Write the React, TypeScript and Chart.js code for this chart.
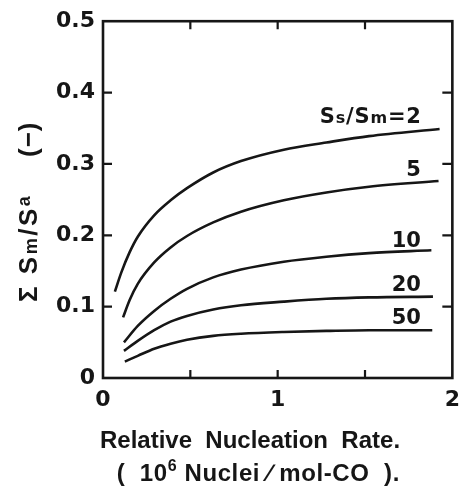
import React, { useEffect, useRef } from 'react';
import { Chart, registerables } from 'chart.js';

Chart.register(...registerables);

// ---- data ----
const seriesNames = ['2', '5', '10', '20', '50'];

const xS2 = [0.068, 0.105, 0.152, 0.199, 0.293, 0.387, 0.481, 0.631, 0.79, 1.035, 1.279, 1.523, 1.927];
const yS2 = [0.121, 0.148, 0.176, 0.198, 0.228, 0.249, 0.266, 0.288, 0.304, 0.320, 0.330, 0.339, 0.349];

const xS5 = [0.115, 0.152, 0.199, 0.293, 0.387, 0.481, 0.631, 0.79, 1.035, 1.279, 1.523, 1.921];
const yS5 = [0.085, 0.109, 0.132, 0.162, 0.183, 0.199, 0.218, 0.233, 0.249, 0.260, 0.268, 0.276];

const xS10 = [0.12, 0.199, 0.293, 0.387, 0.481, 0.631, 0.79, 1.035, 1.279, 1.523, 1.88];
const yS10 = [0.050, 0.073, 0.094, 0.111, 0.125, 0.141, 0.152, 0.163, 0.170, 0.175, 0.179];

const xS20 = [0.12, 0.199, 0.293, 0.387, 0.481, 0.631, 0.79, 1.035, 1.279, 1.523, 1.889];
const yS20 = [0.038, 0.052, 0.067, 0.079, 0.087, 0.096, 0.102, 0.107, 0.111, 0.113, 0.114];

const xS50 = [0.125, 0.199, 0.293, 0.387, 0.481, 0.631, 0.79, 1.035, 1.279, 1.523, 1.885];
const yS50 = [0.023, 0.031, 0.041, 0.048, 0.0535, 0.059, 0.062, 0.0645, 0.066, 0.067, 0.067];

const xTickValues = [0, 1, 2];
const xTickLabels = ['0', '1', '2'];
const yTickValues = [0, 0.1, 0.2, 0.3, 0.4, 0.5];
const yTickLabels = ['0', '0.1', '0.2', '0.3', '0.4', '0.5'];
const xInnerTicks = [0.5, 1, 1.5];
const yInnerTicks = [0.1, 0.2, 0.3, 0.4];

// label anchors (data coords, right-aligned baseline)
const labelAnchorX = 1.82;
const labelAnchorY = [0.357, 0.283, 0.184, 0.122, 0.076];

const INK = '#161616';

type Run = { t: string; font: string; dy?: number };

function drawRuns(
  ctx: CanvasRenderingContext2D,
  runs: Run[],
  x: number,
  y: number,
  align: 'left' | 'center' | 'right',
  spacing = 0,
) {
  const chars: { c: string; font: string; dy: number; w: number }[] = [];
  runs.forEach((r) => {
    ctx.font = r.font;
    if (spacing === 0) {
      chars.push({ c: r.t, font: r.font, dy: r.dy || 0, w: ctx.measureText(r.t).width });
    } else {
      for (const c of Array.from(r.t)) {
        chars.push({ c, font: r.font, dy: r.dy || 0, w: ctx.measureText(c).width + spacing });
      }
    }
  });
  let total = chars.reduce((a, c) => a + c.w, 0);
  if (spacing) total -= spacing;
  let cx = align === 'left' ? x : align === 'center' ? x - total / 2 : x - total;
  ctx.textAlign = 'left';
  ctx.textBaseline = 'alphabetic';
  chars.forEach((c) => {
    ctx.font = c.font;
    ctx.fillText(c.c, cx, y + c.dy);
    cx += c.w;
  });
}

const decorPlugin = {
  id: 'decor',
  afterDraw(chart: any) {
    const { ctx, chartArea } = chart;
    const xs = chart.scales.x;
    const ys = chart.scales.y;
    const { left, right, top, bottom } = chartArea;
    ctx.save();
    ctx.strokeStyle = INK;
    ctx.fillStyle = INK;
    ctx.lineWidth = 2.6;
    ctx.strokeRect(left, top, right - left, bottom - top);
    ctx.lineWidth = 2.2;
    ctx.beginPath();
    xInnerTicks.forEach((v) => {
      const px = xs.getPixelForValue(v);
      ctx.moveTo(px, bottom);
      ctx.lineTo(px, bottom - 8);
      ctx.moveTo(px, top);
      ctx.lineTo(px, top + 8);
    });
    yInnerTicks.forEach((v) => {
      const py = ys.getPixelForValue(v);
      ctx.moveTo(left, py);
      ctx.lineTo(left + 9, py);
      ctx.moveTo(right, py);
      ctx.lineTo(right - 10, py);
    });
    ctx.stroke();

    // curve labels
    const big = 'bold 21px "DejaVu Sans"';
    const small = 'bold 16px "DejaVu Sans"';
    const lx = xs.getPixelForValue(labelAnchorX);
    seriesNames.forEach((n, i) => {
      const ly = ys.getPixelForValue(labelAnchorY[i]);
      if (i === 0) {
        drawRuns(ctx, [
          { t: 'S', font: big },
          { t: 's', font: small },
          { t: '/', font: big },
          { t: 'S', font: big },
          { t: 'm', font: small },
          { t: '=', font: big },
          { t: n, font: big },
        ], lx, ly, 'right', 0.8);
      } else {
        drawRuns(ctx, [{ t: n, font: big }], lx, ly, 'right');
      }
    });

    // y-axis title (rotated)
    ctx.save();
    ctx.translate(37, 302);
    ctx.rotate(-Math.PI / 2);
    const tb = 'bold 26px "Liberation Sans"';
    const ts = 'bold 18px "Liberation Sans"';
    drawRuns(ctx, [
      { t: 'Σ ', font: tb },
      { t: 'S', font: tb },
      { t: 'm', font: ts },
      { t: '/', font: tb },
      { t: 'S', font: tb },
      { t: 'a', font: ts, dy: -7 },
    ], 0, 0, 'left', 2.5);
    drawRuns(ctx, [{ t: '(−)', font: tb }], 145, 0, 'left', 1);
    ctx.restore();

    // x-axis title
    const xb = 'bold 24px "Liberation Sans"';
    drawRuns(ctx, [{ t: 'Relative  Nucleation  Rate.', font: xb }], 250, 448, 'center');
    drawRuns(ctx, [
      { t: '(  10', font: xb },
      { t: '6', font: 'bold 16px "Liberation Sans"', dy: -10 },
      { t: ' Nuclei ∕ mol-CO  ).', font: xb },
    ], 258, 481, 'center', 0.6);
    ctx.restore();
  },
};

export default function App() {
  const ref = useRef<HTMLCanvasElement | null>(null);
  useEffect(() => {
    document.body.style.margin = '0';
    const canvas = ref.current;
    if (!canvas) return;
    const mk = (xa: number[], ya: number[]) => ({
      data: xa.map((x, i) => ({ x, y: ya[i] })),
      showLine: true,
      borderColor: INK,
      borderWidth: 2.6,
      pointRadius: 0,
      cubicInterpolationMode: 'monotone' as const,
      fill: false,
    });
    const chart = new Chart(canvas, {
      type: 'scatter',
      data: {
        datasets: [mk(xS2, yS2), mk(xS5, yS5), mk(xS10, yS10), mk(xS20, yS20), mk(xS50, yS50)],
      },
      options: {
        animation: false,
        responsive: false,
        maintainAspectRatio: false,
        layout: { padding: { top: 14, right: 11, left: 0, bottom: 0 } },
        plugins: { legend: { display: false }, tooltip: { enabled: false } },
        scales: {
          x: {
            type: 'linear',
            min: 0,
            max: 2,
            afterFit: (s: any) => { s.height = 112; },
            afterBuildTicks: (s: any) => { s.ticks = xTickValues.map((v) => ({ value: v })); },
            ticks: {
              callback: (_v: any, i: number) => xTickLabels[i],
              font: { family: 'DejaVu Sans', weight: 'bold', size: 22 },
              color: INK,
              padding: 9,
              maxRotation: 0,
              autoSkip: false,
            },
            grid: { display: false, drawTicks: false },
            border: { display: false },
          },
          y: {
            type: 'linear',
            min: 0,
            max: 0.5,
            afterFit: (s: any) => { s.width = 103; },
            afterBuildTicks: (s: any) => { s.ticks = yTickValues.map((v) => ({ value: v })); },
            ticks: {
              callback: (_v: any, i: number) => yTickLabels[i],
              font: { family: 'DejaVu Sans', weight: 'bold', size: 22 },
              color: INK,
              padding: 8,
              autoSkip: false,
            },
            grid: { display: false, drawTicks: false },
            border: { display: false },
          },
        },
      },
      plugins: [decorPlugin],
    } as any);
    return () => chart.destroy();
  }, []);
  return <canvas ref={ref} width={469} height={490} style={{ display: 'block' }} />;
}
